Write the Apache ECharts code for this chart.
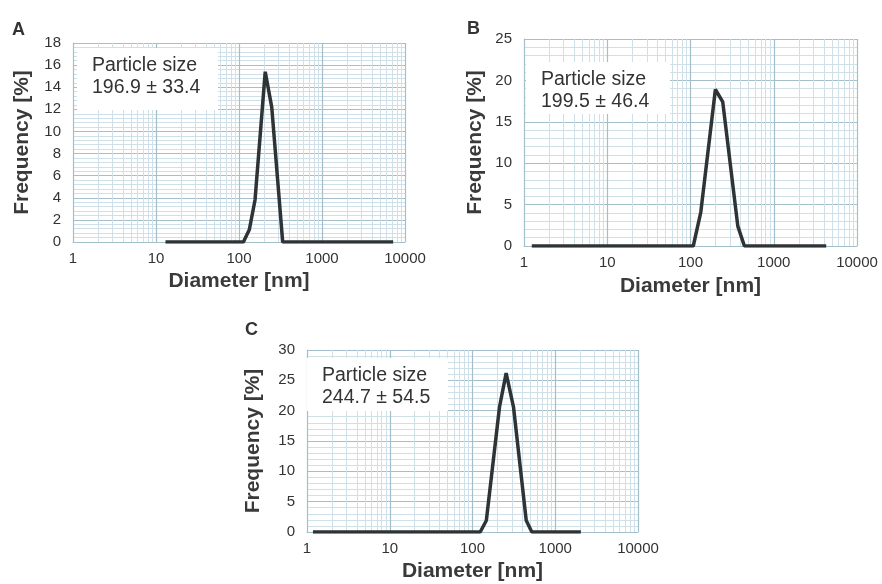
<!DOCTYPE html>
<html>
<head>
<meta charset="utf-8">
<script src="https://cdn.jsdelivr.net/npm/echarts@6/dist/echarts.min.js"></script>
<style>
  html, body { margin: 0; padding: 0; background: #fff; }
  #chart { width: 882px; height: 584px; }
</style>
</head>
<body>
<div id="chart"></div>
<script>
// size distributions: [diameter nm, frequency %]
var distA = [[13, 0], [113, 0], [133, 1.1], [156, 3.8], [207, 15.4], [248, 12.2], [336, 0], [7200, 0]];
var distB = [[1.24, 0], [108, 0], [133, 4.1], [199, 18.9], [244, 17.4], [370, 2.4], [444, 0], [4270, 0]];
var distC = [[1.18, 0], [124, 0], [147, 1.9], [212, 20.6], [255, 26.2], [313, 20.6], [446, 1.9], [521, 0], [2040, 0]];

var panelNames = ['A', 'B', 'C'];
var sizeTexts = ['196.9 ± 33.4', '199.5 ± 46.4', '244.7 ± 54.5'];
var yMax = [18, 25, 30];
var yStep = [2, 5, 5];

// panel geometry (px)
var panels = [
    { left: 73, top: 43, width: 332, height: 199, yGap: 40, xGap: 29, label: [12, 21], box: [77, 48, 141, 62] },
    { left: 524, top: 39, width: 333, height: 207, yGap: 38, xGap: 30, label: [467, 20], box: [526, 62, 144, 52] },
    { left: 307, top: 350, width: 331, height: 182, yGap: 43, xGap: 29, label: [245, 321], box: [307, 358, 141, 53] }
];

var gridMajor = '#a3bfcc';
var gridMinor = '#cfe0e8';
var font = 'Liberation Sans, Arial, sans-serif';

// minor log grid lines 2..9 of each decade
var minorX = [];
[1, 10, 100, 1000].forEach(function (d) {
    for (var k = 2; k <= 9; k++) {
        minorX.push({ xAxis: k * d });
    }
});

var grids = [], xAxes = [], yAxes = [], series = [], titles = [], graphics = [];
var dists = [distA, distB, distC];

panels.forEach(function (p, i) {
    grids.push({ left: p.left, top: p.top, width: p.width, height: p.height });
    xAxes.push({
        type: 'log',
        logBase: 10,
        gridIndex: i,
        min: 1,
        max: 10000,
        name: 'Diameter [nm]',
        nameLocation: 'middle',
        nameGap: p.xGap,
        nameTextStyle: { fontFamily: font, fontSize: 21, fontWeight: 'bold', color: '#3a3a3a', verticalAlign: 'top' },
        axisLine: { show: true, lineStyle: { color: gridMajor, width: 1 } },
        axisTick: { show: false },
        axisLabel: {
            fontFamily: font, fontSize: 15, color: '#333', margin: 9,
            formatter: function (v) { return String(Math.round(v)); }
        },
        splitLine: { show: true, lineStyle: { color: gridMajor, width: 1.2 } }
    });
    yAxes.push({
        type: 'value',
        gridIndex: i,
        min: 0,
        max: yMax[i],
        interval: yStep[i],
        name: 'Frequency [%]',
        nameLocation: 'middle',
        nameGap: p.yGap,
        nameTextStyle: { fontFamily: font, fontSize: 21, fontWeight: 'bold', color: '#3a3a3a' },
        axisLine: { show: true, lineStyle: { color: gridMajor, width: 1 } },
        axisTick: { show: false },
        axisLabel: { fontFamily: font, fontSize: 15, color: '#333', margin: 12 },
        splitLine: { show: true, lineStyle: { color: gridMajor, width: 1 } },
        minorTick: { show: false, splitNumber: 5 },
        minorSplitLine: { show: true, lineStyle: { color: gridMinor, width: 1 } }
    });
    // dummy series carrying the minor vertical grid
    series.push({
        type: 'line',
        xAxisIndex: i,
        yAxisIndex: i,
        data: [[1, 0]],
        symbol: 'none',
        lineStyle: { opacity: 0 },
        silent: true,
        z: 1,
        markLine: {
            silent: true,
            symbol: 'none',
            label: { show: false },
            lineStyle: { color: gridMinor, width: 1, type: 'solid' },
            data: minorX
        }
    });
    series.push({
        type: 'line',
        xAxisIndex: i,
        yAxisIndex: i,
        data: dists[i],
        symbol: 'none',
        lineStyle: { color: '#2e3436', width: 3.5 },
        z: 5
    });
    titles.push({
        text: panelNames[i],
        left: p.label[0],
        top: p.label[1],
        padding: 0,
        textStyle: { fontFamily: font, fontSize: 18, fontWeight: 'bold', color: '#333' }
    });
    graphics.push({
        type: 'rect',
        left: p.box[0],
        top: p.box[1],
        shape: { width: p.box[2], height: p.box[3] },
        style: { fill: '#fff' },
        z: 10
    });
    graphics.push({
        type: 'text',
        left: p.box[0] + 15,
        top: p.box[1] + 7,
        style: {
            text: 'Particle size\n' + sizeTexts[i],
            font: '19.5px ' + font,
            fill: '#333',
            lineHeight: 22
        },
        z: 11
    });
});

var chart = echarts.init(document.getElementById('chart'), null, { renderer: 'canvas' });
chart.setOption({
    backgroundColor: '#fff',
    animation: false,
    title: titles,
    grid: grids,
    xAxis: xAxes,
    yAxis: yAxes,
    series: series,
    graphic: graphics
});
</script>
</body>
</html>
